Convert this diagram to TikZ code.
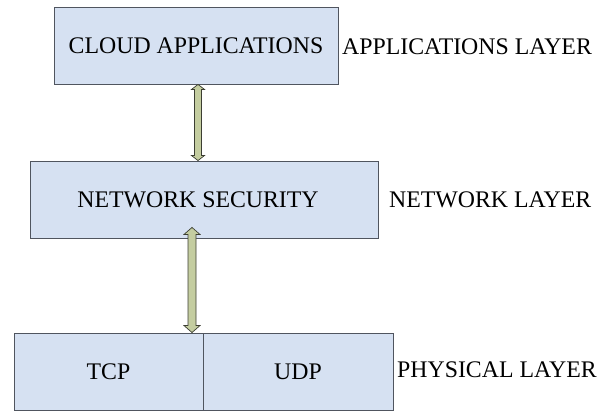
\documentclass[tikz,border=0pt]{standalone}
\usepackage{fontspec}
\setmainfont{Liberation Serif}
\usetikzlibrary{calc}
\definecolor{boxfill}{RGB}{214,225,242}
\definecolor{boxline}{RGB}{80,85,95}
\definecolor{arrfill}{RGB}{196,205,160}
\definecolor{arrline}{RGB}{60,62,50}
\newcommand\vdblarrow[5]{%
  \draw[dblarrow] let \p1=#1, \p2=#2 in
    (\p1) -- (\x1+#4,\y1-#5) -- (\x1+#3,\y1-#5) -- (\x1+#3,\y2+#5) -- (\x1+#4,\y2+#5)
    -- (\x1,\y2) -- (\x1-#4,\y2+#5) -- (\x1-#3,\y2+#5) -- (\x1-#3,\y1-#5)
    -- (\x1-#4,\y1-#5) -- cycle;}
\begin{document}
\begin{tikzpicture}[x=1pt,y=1pt,
  layerbox/.style={draw=boxline, line width=0.9pt, fill=boxfill, minimum height=77pt,
    inner sep=0pt, font=\fontsize{23.8}{28}\selectfont},
  plaintext/.style={inner sep=0pt, font=\fontsize{23.8}{28}\selectfont},
  layerlabel/.style={plaintext, anchor=west},
  dblarrow/.style={draw=arrline, fill=arrfill, line width=0.7pt, line join=miter}]
\useasboundingbox (0,0) rectangle (607,411);
\node[layerbox, minimum width=284pt] (cloud) at (196,365.5) {CLOUD APPLICATIONS};
\node[layerbox, minimum width=348pt] (net) at (204,211.5) {};
\node[plaintext] (nettext) at (198,211.5) {NETWORK SECURITY};
\node[layerbox, minimum width=189pt] (tcp) at (108.5,39.5) {TCP};
\node[layerbox, minimum width=190pt] (udp) at (298,39.5) {UDP};
\node[layerlabel] (l1) at (342,364) {APPLICATIONS LAYER};
\node[layerlabel] (l2) at (389,211) {NETWORK LAYER};
\node[layerlabel] (l3) at (397,41) {PHYSICAL LAYER};
\coordinate (ax1) at (198,0);
\coordinate (ax2) at (192,0);
\vdblarrow{(cloud.south -| ax1)}{(net.north -| ax1)}{3.5}{6.5}{5}
\vdblarrow{($(net.south -| ax2)+(0,11)$)}{(tcp.north -| ax2)}{4}{8}{7}
\end{tikzpicture}
\end{document}
